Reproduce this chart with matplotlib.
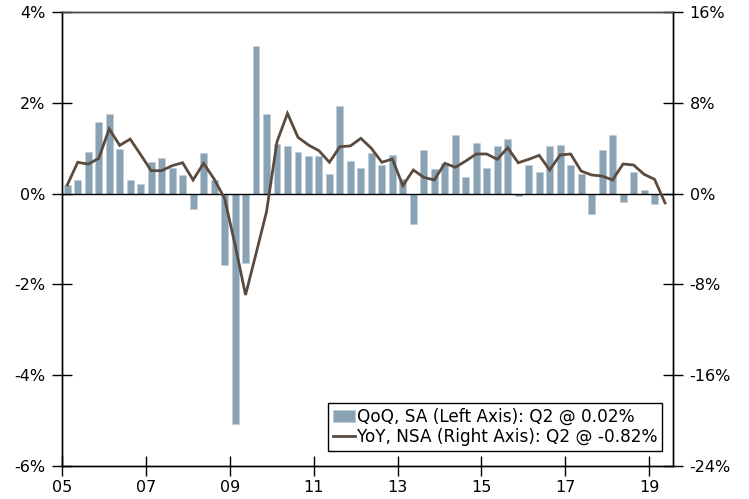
import numpy as np
import matplotlib
matplotlib.use("Agg")
import matplotlib.pyplot as plt
from matplotlib.ticker import FuncFormatter

# quarterly data, 2005Q1 onwards
qoq_sa = [0.18, 0.29, 0.91, 1.58, 1.75, 0.98, 0.31, 0.21,
          0.70, 0.78, 0.57, 0.40, -0.34, 0.90, 0.29, -1.58,
          -5.07, -1.53, 3.25, 1.75, 1.09, 1.05, 0.92, 0.83,
          0.82, 0.44, 1.93, 0.71, 0.56, 0.90, 0.64, 0.86,
          0.33, -0.67, 0.97, 0.54, 0.67, 1.28, 0.37, 1.11,
          0.56, 1.05, 1.21, -0.05, 0.64, 0.48, 1.05, 1.07,
          0.62, 0.43, -0.45, 0.97, 1.28, -0.19, 0.48, 0.07,
          -0.24]
yoy_nsa = [0.76, 2.76, 2.60, 3.10, 5.70, 4.25, 4.80, 3.43,
           2.02, 2.02, 2.46, 2.72, 1.20, 2.67, 1.29, -0.41,
           -4.50, -8.93, -5.30, -1.60, 4.57, 7.07, 4.96, 4.28,
           3.78, 2.76, 4.13, 4.20, 4.87, 3.99, 2.76, 3.05,
           0.70, 2.08, 1.43, 1.20, 2.67, 2.32, 2.87, 3.49,
           3.49, 3.02, 4.04, 2.72, 3.02, 3.37, 2.08, 3.40,
           3.49, 1.99, 1.64, 1.55, 1.20, 2.61, 2.52, 1.70,
           1.26, -0.82]
year_ticks = [2005, 2007, 2009, 2011, 2013, 2015, 2017, 2019]
year_labels = ["05", "07", "09", "11", "13", "15", "17", "19"]

BAR_COLOR = "#89a3b4"
LINE_COLOR = "#5a4b40"

plt.rcParams["font.family"] = "DejaVu Sans"
plt.rcParams["font.size"] = 11.5

x_bar = 2005.125 + np.arange(len(qoq_sa)) / 4.0
x_line = 2005.125 + np.arange(len(yoy_nsa)) / 4.0

fig = plt.figure(figsize=(7.49, 4.99), dpi=100)
ax = fig.add_axes([62 / 749, 1 - 466 / 499, 611 / 749, 454 / 499])
ax2 = ax.twinx()

bars = ax.bar(x_bar, qoq_sa, width=0.165, color=BAR_COLOR,
              edgecolor="#b9cad4", linewidth=0.4, zorder=2,
              label="QoQ, SA (Left Axis): Q2 @ 0.02%")
ax.axhline(0, color="black", linewidth=1.0, zorder=3)
line, = ax2.plot(x_line, yoy_nsa, color=LINE_COLOR, linewidth=2.0,
                 solid_joinstyle="miter", zorder=4,
                 label="YoY, NSA (Right Axis): Q2 @ -0.82%")

ax.set_xlim(2005, 2019.565)
ax.set_ylim(-6, 4)
ax2.set_ylim(-24, 16)
ax.set_yticks(np.arange(-6, 5, 2))
ax2.set_yticks(np.arange(-24, 17, 8))
pct = FuncFormatter(lambda v, p: "%d%%" % v)
ax.yaxis.set_major_formatter(pct)
ax2.yaxis.set_major_formatter(pct)
ax.set_xticks(year_ticks)
ax.set_xticklabels(year_labels)

for a in (ax, ax2):
    a.tick_params(direction="inout", length=14, width=1.0, colors="black",
                  labelsize=11.5)
    for s in a.spines.values():
        s.set_linewidth(1.0)
        s.set_color("black")
ax.spines["top"].set_color("#444444")
ax2.spines["top"].set_color("#444444")
ax.tick_params(axis="x", pad=3)
ax.tick_params(axis="y", pad=5)
ax2.tick_params(axis="y", pad=5)

leg = ax2.legend([bars, line], [bars.get_label(), line.get_label()],
                 loc="lower right", bbox_to_anchor=(0.988, 0.025),
                 frameon=True, fancybox=False, framealpha=1,
                 edgecolor="black", fontsize=12.2, handlelength=1.3,
                 handletextpad=0.12, borderpad=0.3, labelspacing=0.15,
                 borderaxespad=0.2)
leg.get_frame().set_linewidth(1.0)

fig.savefig("out.png", dpi=100)
